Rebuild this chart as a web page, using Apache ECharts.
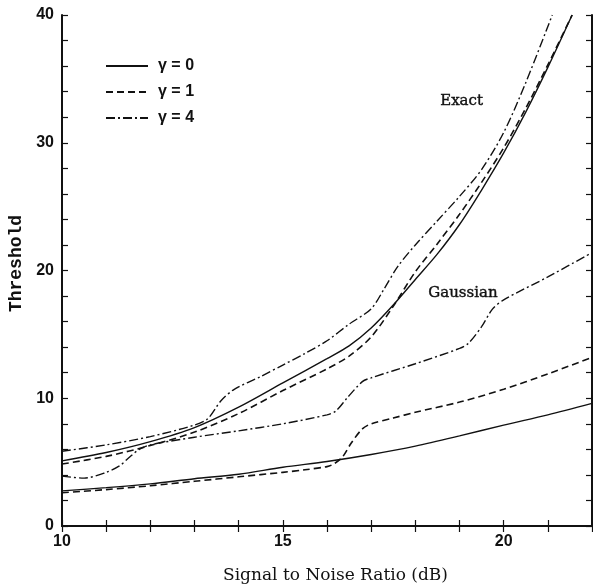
<!DOCTYPE html>
<html>
<head>
<meta charset="utf-8">
<script src="https://cdn.jsdelivr.net/npm/echarts@6/dist/echarts.min.js"></script>
<style>html,body{margin:0;padding:0;background:#fff}#c{width:593px;height:588px}</style>
</head>
<body>
<div id="c"></div>
<script>
// Exact curves
const exact0 = [[10,5.1],[11,5.75],[12,6.6],[13,7.7],[14,9.3],[15,11.2],[16,13.1],[16.5,14.1],[17,15.5],[17.5,17.3],[18,19.3],[18.5,21.3],[19,23.6],[19.5,26.3],[20,29.2],[20.5,32.4],[21,35.9],[21.55,40]];
const exact1 = [[10,4.85],[11,5.45],[12,6.3],[13,7.35],[14,8.8],[15,10.6],[16,12.3],[16.5,13.3],[17,14.8],[17.5,17.2],[18,19.9],[18.5,22.1],[19,24.4],[19.5,26.9],[20,29.6],[20.5,32.7],[21,36.1],[21.55,40]];
const exact4 = [[10,5.85],[11,6.35],[12,7.0],[13,7.9],[13.3,8.4],[13.6,9.8],[13.9,10.7],[14.5,11.7],[15,12.6],[15.5,13.5],[16,14.5],[16.5,15.8],[17,17.0],[17.3,18.6],[17.6,20.3],[18,22.0],[18.5,23.9],[19,25.8],[19.5,27.9],[20,30.8],[20.5,34.7],[21.1,40]];
// Gaussian curves
const gauss0 = [[10,2.75],[11,3.0],[12,3.3],[13,3.7],[14,4.05],[15,4.6],[16,5.05],[17,5.6],[18,6.25],[19,7.05],[20,7.9],[21,8.7],[22,9.6]];
const gauss1 = [[10,2.6],[11,2.85],[12,3.15],[13,3.5],[14,3.85],[15,4.2],[15.5,4.4],[16,4.65],[16.15,4.85],[16.35,5.4],[16.55,6.5],[16.8,7.6],[17,8.0],[17.5,8.45],[18,8.9],[19,9.7],[20,10.7],[21,11.9],[22,13.2]];
const gauss4 = [[10,3.9],[10.5,3.75],[11,4.2],[11.3,4.7],[11.5,5.3],[11.75,6.0],[12,6.35],[13,6.95],[14,7.45],[15,8.0],[16,8.7],[16.2,9.0],[16.45,10.0],[16.8,11.3],[17,11.6],[18,12.7],[19,13.9],[19.2,14.3],[19.5,15.6],[19.75,17.0],[20,17.7],[21,19.5],[22,21.4]];

const legendNames = ['γ = 0', 'γ = 1', 'γ = 4'];
const xLabels = [10, 15, 20];
const yLabels = [0, 10, 20, 30, 40];

const ink = '#111';
const styles = [
  {type: 'solid', width: 1.4},
  {type: [7, 4], width: 1.6},
  {type: [9, 3, 2, 3], width: 1.4}
];

function mk(name, data, st) {
  return {
    type: 'line', name: name, data: data, smooth: 0.3, symbol: 'none', showSymbol: false,
    lineStyle: {color: ink, width: st.width, type: st.type},
    itemStyle: {color: ink}, silent: true
  };
}

const narrow = '"Liberation Sans Narrow", "Liberation Sans", sans-serif';
const chart = echarts.init(document.getElementById('c'), null, {renderer: 'canvas'});
const axisFont = {fontFamily: narrow, fontWeight: 'bold', fontSize: 16, color: ink};
chart.setOption({
  animation: false,
  backgroundColor: '#fff',
  grid: {left: 62, right: 1, top: 15, bottom: 62, containLabel: false, outerBoundsMode: 'none'},
  legend: {
    data: legendNames, orient: 'vertical', left: 100, top: 53,
    itemWidth: 42, itemHeight: 14, itemGap: 10,
    itemStyle: {opacity: 0},
    textStyle: {fontFamily: narrow, fontWeight: 'bold', fontSize: 16, color: ink, padding: [0, 0, 0, 5]},
    selectedMode: false
  },
  xAxis: [{
    type: 'value', min: 10, max: 22, interval: 1, position: 'bottom',
    axisLine: {lineStyle: {color: ink, width: 2}},
    axisTick: {inside: true, length: 6, lineStyle: {color: ink, width: 1.2}},
    axisLabel: Object.assign({margin: 8, formatter: v => xLabels.includes(v) ? String(v) : ''}, axisFont),
    splitLine: {show: false},
    name: 'Signal to Noise Ratio (dB)', nameLocation: 'middle', nameGap: 41,
    nameTextStyle: {fontFamily: 'DejaVu Serif', fontSize: 17, color: ink, padding: [0, 0, 0, 17]}
  }, {
    type: 'value', min: 10, max: 22, interval: 1, position: 'top',
    axisLine: {lineStyle: {color: ink, width: 2}},
    axisTick: {inside: true, length: 6, lineStyle: {color: ink, width: 1.2}},
    axisLabel: {show: false}, splitLine: {show: false}
  }],
  yAxis: [{
    type: 'value', min: 0, max: 40, interval: 2, position: 'left',
    axisLine: {show: true, lineStyle: {color: ink, width: 2}},
    axisTick: {show: true, inside: true, length: 6, lineStyle: {color: ink, width: 1.2}},
    axisLabel: Object.assign({margin: 8, formatter: v => yLabels.includes(v) ? String(v) : ''}, axisFont),
    splitLine: {show: false},
    name: 'Threshold', nameLocation: 'middle', nameGap: 35, nameRotate: 90,
    nameTextStyle: {fontFamily: '"Liberation Mono", monospace', fontWeight: 'bold', fontSize: 18, color: ink, padding: [0, 0, 0, 14]}
  }, {
    type: 'value', min: 0, max: 40, interval: 2, position: 'right',
    axisLine: {show: true, lineStyle: {color: ink, width: 2}},
    axisTick: {show: true, inside: true, length: 6, lineStyle: {color: ink, width: 1.2}},
    axisLabel: {show: false}, splitLine: {show: false}
  }],
  graphic: [
    {type: 'text', left: 440, top: 93, style: {text: 'Exact', font: '15px "DejaVu Serif"', fill: ink, stroke: ink, lineWidth: 0.4}},
    {type: 'text', left: 428, top: 285, style: {text: 'Gaussian', font: '15px "DejaVu Serif"', fill: ink, stroke: ink, lineWidth: 0.4}}
  ],
  series: [
    mk(legendNames[0], exact0, styles[0]),
    mk(legendNames[1], exact1, styles[1]),
    mk(legendNames[2], exact4, styles[2]),
    mk(legendNames[0], gauss0, styles[0]),
    mk(legendNames[1], gauss1, styles[1]),
    mk(legendNames[2], gauss4, styles[2])
  ]
});
</script>
</body>
</html>
